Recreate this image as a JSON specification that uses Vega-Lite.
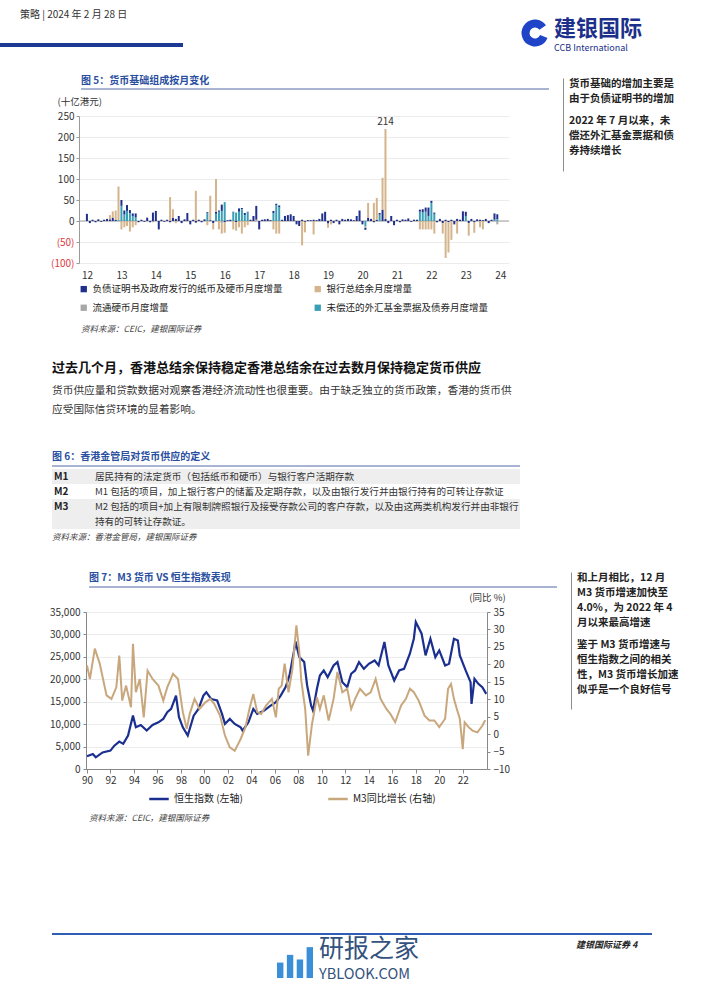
{
"$schema":"https://vega.github.io/schema/vega-lite/v6.json",
"padding":0,
"background":"white",
"spacing":0,
"resolve":{"scale":{"color":"independent","theta":"independent","x":"independent","y":"independent"},"legend":{"color":"independent"}},
"config":{"view":{"stroke":null},"font":"Noto Sans CJK SC","concat":{"spacing":0},"title":{"anchor":"start","frame":"bounds"}},
"datasets":{
"c5":[
{"m":"2012-01","ci":17},{"m":"2012-02","ci":-5},{"m":"2012-03","ci":3},{"m":"2012-04","ci":-3},{"m":"2012-05","ci":4},{"m":"2012-06","ci":-2},{"m":"2012-07","ci":3},{"m":"2012-08","ci":5},{"m":"2012-09","ci":4,"ab":10},{"m":"2012-10","ci":8,"ab":15},{"m":"2012-11","ci":3,"ab":22},{"m":"2012-12","ab":80,"ef":2},
{"m":"2013-01","ci":14,"ab":-20,"ef":36},{"m":"2013-02","ci":10,"ab":-15,"ef":15},{"m":"2013-03","ci":14,"ab":-12,"ef":24},{"m":"2013-04","ci":8,"ab":-25,"ef":18},{"m":"2013-05","ci":6,"ab":-15,"ef":12},{"m":"2013-06","ci":10,"ab":-10,"ef":8},{"m":"2013-07","ci":-3},{"m":"2013-08","ci":3},{"m":"2013-09","ci":-2},{"m":"2013-10","ci":8},{"m":"2013-11","ci":-3},{"m":"2013-12","ci":20,"co":-3},
{"m":"2014-01","ci":24},{"m":"2014-02","ci":-20},{"m":"2014-03","ci":3},{"m":"2014-04","ci":-2},{"m":"2014-05","ci":3},{"m":"2014-06","ci":-3,"ab":57},{"m":"2014-07","ci":8,"ab":20},{"m":"2014-08","ci":5,"ab":-5},{"m":"2014-09","ci":12},{"m":"2014-10","ci":-5},{"m":"2014-11","ci":4},{"m":"2014-12","ci":19},
{"m":"2015-01","ci":-8},{"m":"2015-02","ci":3},{"m":"2015-03","ci":-4,"ab":72},{"m":"2015-04","ci":3},{"m":"2015-05","ci":-3},{"m":"2015-06","ci":4},{"m":"2015-07","ci":3,"ab":-10,"ef":18},{"m":"2015-08","ci":2,"ab":58},{"m":"2015-09","ci":-5,"ab":-15},{"m":"2015-10","ci":5,"ab":78,"ef":17},{"m":"2015-11","ci":3,"ab":-20,"ef":22},{"m":"2015-12","ci":15,"ab":-25,"ef":24,"co":-5},
{"m":"2016-01","ci":-3,"ab":-25,"ef":45},{"m":"2016-02","ci":2},{"m":"2016-03","ci":3},{"m":"2016-04","ci":2,"ab":-20,"ef":20},{"m":"2016-05","ci":-3,"ab":-20,"ef":20},{"m":"2016-06","ci":8,"ab":-15,"ef":22},{"m":"2016-07","ci":3,"ab":-30,"ef":28},{"m":"2016-08","ci":5,"ab":-15,"ef":14},{"m":"2016-09","ci":2,"ab":-10,"ef":20},{"m":"2016-10","ci":3},{"m":"2016-11","ci":12},{"m":"2016-12","ci":33,"co":3},
{"m":"2017-01","ci":-20},{"m":"2017-02","ci":3},{"m":"2017-03","ci":4},{"m":"2017-04","ci":5},{"m":"2017-05","ci":2},{"m":"2017-06","ci":6,"ab":-20,"ef":18},{"m":"2017-07","ci":3,"ab":-30,"ef":38},{"m":"2017-08","ci":5,"ab":-30,"ef":32},{"m":"2017-09","ci":3},{"m":"2017-10","ci":12},{"m":"2017-11","ci":14},{"m":"2017-12","ci":16},
{"m":"2018-01","ci":12},{"m":"2018-02","ci":-8},{"m":"2018-03","ci":-12},{"m":"2018-04","ci":3,"ab":-58},{"m":"2018-05","ci":-2,"ab":-25},{"m":"2018-06","ci":2},{"m":"2018-07","ci":2},{"m":"2018-08","ci":3,"ab":-32},{"m":"2018-09","ci":2},{"m":"2018-10","ci":5},{"m":"2018-11","ci":18},{"m":"2018-12","ci":22},
{"m":"2019-01","ci":-6,"ab":-10},{"m":"2019-02","ci":3,"ab":-8},{"m":"2019-03","ci":-5},{"m":"2019-04","ci":3},{"m":"2019-05","ci":-8},{"m":"2019-06","ci":5},{"m":"2019-07","ci":3},{"m":"2019-08","ci":5},{"m":"2019-09","ci":4},{"m":"2019-10","ci":2},{"m":"2019-11","ci":12},{"m":"2019-12","ci":25},
{"m":"2020-01","ci":-8},{"m":"2020-02","ci":-5,"ef":-12,"co":-4},{"m":"2020-03","ci":8,"ab":35},{"m":"2020-04","ci":5},{"m":"2020-05","ci":-3,"ab":43},{"m":"2020-06","ci":3,"ab":52},{"m":"2020-07","ci":4,"ef":15},{"m":"2020-08","ci":27,"ab":76},{"m":"2020-09","ci":5,"ab":214},{"m":"2020-10","ci":-5},{"m":"2020-11","ci":12},{"m":"2020-12","ci":-10},
{"m":"2021-01","ci":3},{"m":"2021-02","ci":-3},{"m":"2021-03","ci":4},{"m":"2021-04","ci":3},{"m":"2021-05","ci":6},{"m":"2021-06","ci":-2},{"m":"2021-07","ci":3},{"m":"2021-08","ci":3},{"m":"2021-09","ci":5,"ab":-20,"ef":22},{"m":"2021-10","ci":8,"ab":-20,"ef":20},{"m":"2021-11","ci":10,"ab":-20,"ef":22},{"m":"2021-12","ci":20,"ab":-20,"ef":12},
{"m":"2022-01","ci":5,"ab":-20,"ef":43},{"m":"2022-02","ci":3,"ab":-30,"ef":17},{"m":"2022-03","ci":-3},{"m":"2022-04","ci":5},{"m":"2022-05","ci":-5,"ab":-25},{"m":"2022-06","ci":3,"ab":-88},{"m":"2022-07","ci":-3,"ab":-72},{"m":"2022-08","ci":3,"ab":-45},{"m":"2022-09","ci":-8},{"m":"2022-10","ci":5,"ab":-30},{"m":"2022-11","ci":3},{"m":"2022-12","ci":23},
{"m":"2023-01","ci":10,"ef":12},{"m":"2023-02","ci":-5,"ab":-30},{"m":"2023-03","ci":5},{"m":"2023-04","ci":-3,"ab":-25},{"m":"2023-05","ci":4},{"m":"2023-06","ci":3,"ab":-15},{"m":"2023-07","ci":2,"ab":-20},{"m":"2023-08","ci":5},{"m":"2023-09","ci":-5},{"m":"2023-10","ci":3},{"m":"2023-11","ci":15,"ef":3},{"m":"2023-12","ci":12,"ef":4,"co":-8}
],
"hsi":[
{"d":"1990-01","v":2830},{"d":"1990-07","v":3350},{"d":"1990-10","v":2600},{"d":"1991-05","v":3700},{"d":"1992-01","v":4100},{"d":"1992-05","v":5200},{"d":"1992-10","v":6100},{"d":"1993-02","v":5600},{"d":"1993-07","v":7450},{"d":"1993-12","v":11900},{"d":"1994-03","v":9300},{"d":"1994-08","v":9800},{"d":"1995-02","v":8560},{"d":"1995-08","v":9800},{"d":"1996-02","v":10400},{"d":"1996-07","v":11170},{"d":"1996-11","v":12660},{"d":"1997-03","v":13400},{"d":"1997-08","v":16380},{"d":"1997-11","v":11540},{"d":"1998-03","v":9300},{"d":"1998-08","v":7450},{"d":"1999-02","v":11900},{"d":"1999-07","v":13400},{"d":"1999-12","v":16380},{"d":"2000-03","v":17130},{"d":"2000-08","v":15600},{"d":"2001-02","v":15270},{"d":"2001-07","v":12290},{"d":"2001-10","v":10050},{"d":"2002-03","v":11170},{"d":"2002-08","v":10050},{"d":"2003-02","v":9300},{"d":"2003-04","v":8560},{"d":"2003-10","v":10400},{"d":"2004-03","v":13400},{"d":"2004-07","v":12290},{"d":"2005-02","v":13030},{"d":"2005-08","v":14000},{"d":"2006-02","v":14900},{"d":"2006-07","v":16380},{"d":"2006-12","v":18250},{"d":"2007-04","v":20850},{"d":"2007-09","v":26800},{"d":"2007-10","v":28500},{"d":"2008-02","v":24950},{"d":"2008-07","v":23830},{"d":"2008-10","v":18620},{"d":"2009-02","v":14150},{"d":"2009-04","v":13030},{"d":"2009-08","v":17870},{"d":"2009-11","v":20850},{"d":"2010-03","v":21970},{"d":"2010-07","v":20480},{"d":"2011-01","v":23090},{"d":"2011-05","v":23830},{"d":"2011-10","v":19360},{"d":"2012-03","v":18250},{"d":"2012-07","v":21230},{"d":"2012-11","v":21970},{"d":"2013-03","v":23830},{"d":"2013-08","v":22340},{"d":"2014-01","v":23460},{"d":"2014-07","v":24200},{"d":"2014-11","v":23090},{"d":"2015-05","v":28300},{"d":"2015-09","v":23090},{"d":"2016-03","v":19730},{"d":"2016-08","v":21970},{"d":"2017-01","v":22340},{"d":"2017-07","v":25690},{"d":"2017-11","v":29040},{"d":"2018-01","v":32770},{"d":"2018-07","v":30160},{"d":"2018-11","v":25320},{"d":"2019-04","v":29040},{"d":"2019-09","v":24950},{"d":"2020-01","v":26440},{"d":"2020-07","v":23090},{"d":"2020-11","v":23460},{"d":"2021-04","v":29040},{"d":"2021-08","v":28670},{"d":"2021-10","v":25320},{"d":"2022-04","v":21970},{"d":"2022-09","v":19360},{"d":"2022-10","v":14520},{"d":"2023-01","v":20100},{"d":"2023-05","v":18990},{"d":"2023-09","v":18250},{"d":"2024-01","v":16750}
],
"m3":[
{"d":"1990-01","v":19.7},{"d":"1990-04","v":15.8},{"d":"1990-09","v":24.5},{"d":"1991-02","v":20.2},{"d":"1991-09","v":11.1},{"d":"1992-02","v":10.1},{"d":"1992-07","v":13.4},{"d":"1992-10","v":22.5},{"d":"1993-01","v":9.6},{"d":"1993-05","v":13.9},{"d":"1993-10","v":7.7},{"d":"1993-12","v":25.9},{"d":"1994-03","v":12.0},{"d":"1994-07","v":15.8},{"d":"1994-11","v":4.8},{"d":"1995-03","v":18.2},{"d":"1995-08","v":15.8},{"d":"1996-02","v":13.9},{"d":"1996-07","v":9.6},{"d":"1996-11","v":13.4},{"d":"1997-05","v":17.3},{"d":"1997-10","v":15.8},{"d":"1998-03","v":6.3},{"d":"1998-07","v":1.5},{"d":"1998-10","v":5.8},{"d":"1999-03","v":10.1},{"d":"1999-08","v":7.2},{"d":"2000-02","v":9.1},{"d":"2000-07","v":10.1},{"d":"2000-11","v":8.7},{"d":"2001-05","v":5.3},{"d":"2001-10","v":-0.4},{"d":"2002-03","v":-3.8},{"d":"2002-08","v":-4.8},{"d":"2003-02","v":-1.4},{"d":"2003-07","v":2.0},{"d":"2003-11","v":7.2},{"d":"2004-03","v":11.5},{"d":"2004-07","v":6.3},{"d":"2004-11","v":5.8},{"d":"2005-04","v":8.2},{"d":"2005-10","v":10.1},{"d":"2006-02","v":4.8},{"d":"2006-05","v":13.0},{"d":"2006-08","v":13.9},{"d":"2006-11","v":20.2},{"d":"2007-03","v":12.0},{"d":"2007-07","v":18.7},{"d":"2007-11","v":31.2},{"d":"2008-02","v":23.5},{"d":"2008-04","v":15.4},{"d":"2008-08","v":7.2},{"d":"2008-11","v":-6.2},{"d":"2009-03","v":2.9},{"d":"2009-08","v":10.6},{"d":"2009-11","v":7.2},{"d":"2010-03","v":11.1},{"d":"2010-08","v":3.9},{"d":"2011-01","v":10.1},{"d":"2011-05","v":17.8},{"d":"2011-10","v":12.0},{"d":"2012-03","v":13.0},{"d":"2012-07","v":7.2},{"d":"2012-11","v":10.1},{"d":"2013-04","v":13.0},{"d":"2013-10","v":11.1},{"d":"2014-03","v":12.0},{"d":"2014-08","v":15.8},{"d":"2015-01","v":10.1},{"d":"2015-07","v":7.2},{"d":"2015-11","v":5.8},{"d":"2016-04","v":3.4},{"d":"2016-10","v":8.2},{"d":"2017-03","v":10.1},{"d":"2017-07","v":13.0},{"d":"2017-11","v":12.0},{"d":"2018-04","v":9.6},{"d":"2018-10","v":5.3},{"d":"2019-03","v":3.9},{"d":"2019-08","v":3.9},{"d":"2020-01","v":2.0},{"d":"2020-07","v":4.4},{"d":"2020-10","v":13.0},{"d":"2021-01","v":14.4},{"d":"2021-04","v":10.1},{"d":"2021-07","v":7.2},{"d":"2021-10","v":4.4},{"d":"2022-01","v":-4.3},{"d":"2022-03","v":3.4},{"d":"2022-07","v":2.0},{"d":"2022-11","v":1.0},{"d":"2023-04","v":0.5},{"d":"2023-09","v":2.4},{"d":"2023-12","v":4.0}
],
"tbl":[
{"line":1,"term":"M1","label":"M1","desc":"居民持有的法定货币（包括纸币和硬币）与银行客户活期存款"},
{"line":2,"term":"M2","label":"M2","desc":"M1 包括的项目，加上银行客户的储蓄及定期存款，以及由银行发行并由银行持有的可转让存款证"},
{"line":3,"term":"M3","label":"M3","desc":"M2 包括的项目+加上有限制牌照银行及接受存款公司的客户存款，以及由这两类机构发行并由非银行"},
{"line":4,"term":"M3","label":"","desc":"持有的可转让存款证。"}
]
},
"vconcat":[
{"spacing":0,"resolve":{"scale":{"color":"independent","theta":"independent"},"legend":{"color":"independent"}},"hconcat":[
 {"spacing":0,"vconcat":[
  {"width":183,"height":10,"data":{"values":[]},"mark":"point"},
  {"width":183,"height":4,"view":{"fill":"#1c3a94","stroke":null},"data":{"values":[]},"mark":"point","title":{"text":"策略  |  2024 年 2 月 28 日","fontSize":10,"fontWeight":"normal","color":"#333333","offset":23,"dx":20}}
 ]},
 {"width":338,"height":1,"data":{"values":[]},"mark":"point"},
 {"spacing":0,"vconcat":[
  {"width":28,"height":19,"data":{"values":[]},"mark":"point"},
  {"width":28,"height":28,"data":{"values":[{"p":"a","v":16},{"p":"b","v":84}]},"mark":{"type":"arc","innerRadius":5.5,"outerRadius":13.5},"encoding":{"theta":{"field":"v","type":"quantitative","scale":{"range":[0.95,7.233]}},"color":{"field":"p","type":"nominal","scale":{"domain":["a","b"],"range":["#ffffff","#2044c8"]},"legend":null}}}
 ]},
 {"width":5,"height":1,"data":{"values":[]},"mark":"point"},
 {"spacing":0,"vconcat":[
  {"width":100,"height":18,"data":{"values":[]},"mark":"point"},
  {"width":100,"height":1,"data":{"values":[]},"mark":"point","title":{"text":"建银国际","subtitle":"CCB International","fontSize":22,"fontWeight":"bold","color":"#1c2f8a","subtitleFontSize":9,"subtitleColor":"#1c2f8a","subtitlePadding":3,"offset":0}}
 ]}
]},
{"spacing":0,"resolve":{"scale":{"color":"independent"},"legend":{"color":"independent"}},"hconcat":[
 {"width":50,"height":1,"data":{"values":[]},"mark":"point"},
 {"spacing":0,"resolve":{"scale":{"color":"independent"},"legend":{"color":"independent"}},"vconcat":[
  {"width":470,"height":21,"data":{"values":[]},"mark":"point"},
  {"spacing":0,"hconcat":[
   {"width":2,"height":1,"data":{"values":[]},"mark":"point"},
   {"width":468,"height":2,"view":{"fill":"#a9b4d4","stroke":null},"data":{"values":[]},"mark":"point","title":{"text":"图 5：货币基础组成按月变化","fontSize":10,"fontWeight":"bold","color":"#2a4fa0","offset":2}}
  ]},
  {"width":1,"height":6,"data":{"values":[]},"mark":"point"},
  {"spacing":0,"resolve":{"scale":{"color":"independent"},"legend":{"color":"independent"}},"hconcat":[
  {"width":430,"height":147,
   "encoding":{"y":{"field":"v","type":"quantitative","scale":{"domain":[-100,250],"nice":false},"axis":{"values":[-100,-50,0,50,100,150,200,250],"labelOverlap":false,"labelExpr":"datum.value < 0 ? '(' + abs(datum.value) + ')' : datum.label","labelColor":{"condition":{"test":"datum.value < 0","value":"#e0393e"},"value":"#333333"},"labelFontSize":10,"gridColor":"#ececec","domainColor":"#9a9a9a","tickColor":"#9a9a9a","tickSize":3,"labelPadding":2,"title":"(十亿港元)","titleAngle":0,"titleAlign":"left","titleBaseline":"middle","titleX":-22,"titleY":-15,"titleFontSize":9.5,"titleFontWeight":"normal","titleColor":"#333333"}}},
   "layer":[
    {"data":{"values":[{"v":0}]},"mark":{"type":"rule","color":"#a0a0a0","strokeWidth":1},"encoding":{}},
    {"data":{"name":"c5"},
     "transform":[{"fold":["ci","ab","co","ef"],"as":["s","v"]},{"filter":"isValid(datum.v)"}],
     "mark":{"type":"bar","width":2},
     "encoding":{
      "x":{"field":"m","type":"temporal","scale":{"domain":[{"year":2011,"month":12,"date":1},{"year":2024,"month":2,"date":10}],"nice":false},"axis":{"format":"%y","tickCount":{"interval":"year","step":1},"domain":false,"ticks":false,"grid":false,"labelPadding":7,"labelFontSize":10,"labelColor":"#333333","labelFlush":false,"labelOverlap":false,"title":null}},
      "color":{"field":"s","type":"nominal","scale":{"domain":["ci","co","ab","ef"],"range":["#1f2f8a","#a8a8a8","#d4b48c","#3a9fb5"]},
       "legend":{"orient":"none","legendX":0,"legendY":168,"columns":2,"columnPadding":30,"rowPadding":8,"symbolType":"square","symbolSize":40,"symbolStrokeWidth":0,"labelFontSize":9.5,"labelColor":"#222222","labelLimit":300,"title":null,
        "labelExpr":"datum.label == 'ci' ? '负债证明书及政府发行的纸币及硬币月度增量' : datum.label == 'ab' ? '银行总结余月度增量' : datum.label == 'co' ? '流通硬币月度增量' : '未偿还的外汇基金票据及债券月度增量'"}}
     }},
    {"data":{"name":"c5"},
     "transform":[{"fold":["ci","ab","co","ef"],"as":["s","v"]},{"filter":"isValid(datum.v) && datum.v > 200"}],
     "mark":{"type":"text","dy":-9,"fontSize":10,"color":"#333333"},
     "encoding":{"x":{"field":"m","type":"temporal"},"text":{"field":"v","type":"quantitative"}}}
   ]}
  ]},
  {"width":1,"height":11,"data":{"values":[]},"mark":"point"},
  {"spacing":0,"hconcat":[
   {"width":2,"height":1,"data":{"values":[]},"mark":"point"},
   {"width":1,"height":1,"data":{"values":[]},"mark":"point","title":{"text":"资料来源：CEIC，建银国际证券","fontSize":8.5,"fontStyle":"italic","fontWeight":"normal","color":"#444444","offset":0}}
  ]}
 ]},
 {"width":14,"height":1,"data":{"values":[]},"mark":"point"},
 {"spacing":0,"vconcat":[
  {"width":1,"height":23,"data":{"values":[]},"mark":"point"},
  {"width":160,"height":93,"data":{"values":[{"y":0},{"y":1}]},"mark":{"type":"point","opacity":0,"size":0},
   "encoding":{"y":{"field":"y","type":"quantitative","scale":{"domain":[0,1]},"axis":{"labels":false,"ticks":false,"grid":false,"title":null,"domainColor":"#8c8c8c","domainWidth":1}}},
   "title":{"text":["货币基础的增加主要是","由于负债证明书的增加"],"subtitle":["2022 年 7 月以来，未","偿还外汇基金票据和债","券持续增长"],"orient":"top","anchor":"start","offset":-78,"dx":6,"fontSize":10.5,"fontWeight":"bold","color":"#222222","lineHeight":15,"subtitleFontSize":10.5,"subtitleFontWeight":"bold","subtitleColor":"#222222","subtitleLineHeight":15,"subtitlePadding":11}}
 ]}
]},
{"spacing":0,"hconcat":[
 {"width":52,"height":1,"data":{"values":[]},"mark":"point"},
 {"spacing":0,"vconcat":[
  {"width":1,"height":28,"data":{"values":[]},"mark":"point"},
  {"width":468,"height":1,"data":{"values":[]},"mark":"point","title":{"text":"过去几个月，香港总结余保持稳定香港总结余在过去数月保持稳定货币供应","subtitle":["货币供应量和贷款数据对观察香港经济流动性也很重要。由于缺乏独立的货币政策，香港的货币供","应受国际信贷环境的显着影响。"],"fontSize":13,"fontWeight":"bold","color":"#111111","subtitleFontSize":10.7,"subtitleColor":"#333333","subtitleLineHeight":19,"subtitlePadding":11,"offset":2}}
 ]}
]},
{"spacing":0,"resolve":{"scale":{"color":"independent"},"legend":{"color":"independent"}},"hconcat":[
 {"width":52,"height":1,"data":{"values":[]},"mark":"point"},
 {"spacing":0,"resolve":{"scale":{"color":"independent"},"legend":{"color":"independent"}},"vconcat":[
  {"width":1,"height":34,"data":{"values":[]},"mark":"point"},
  {"width":468,"height":2,"view":{"fill":"#a9b4d4","stroke":null},"data":{"values":[]},"mark":"point","title":{"text":"图 6：香港金管局对货币供应的定义","fontSize":10,"fontWeight":"bold","color":"#2a4fa0","offset":3}},
  {"width":1,"height":2,"data":{"values":[]},"mark":"point"},
  {"width":468,"height":60,"data":{"name":"tbl"},
   "title":{"text":"资料来源：香港金管局，建银国际证券","orient":"bottom","fontSize":8.5,"fontStyle":"italic","fontWeight":"normal","color":"#444444","offset":4},
   "encoding":{"y":{"field":"line","type":"ordinal","axis":null,"scale":{"paddingInner":0,"paddingOuter":0}}},
   "layer":[
    {"mark":{"type":"rect"},"encoding":{"color":{"field":"term","type":"nominal","scale":{"domain":["M1","M2","M3"],"range":["#eeeeee","#ffffff","#eeeeee"]},"legend":null}}},
    {"mark":{"type":"text","align":"left","fontSize":10,"fontWeight":"bold","color":"#222222"},"encoding":{"x":{"datum":"term","type":"nominal","scale":{"type":"point","domain":["term","desc"],"range":[2,43],"padding":0},"axis":null},"text":{"field":"label"}}},
    {"mark":{"type":"text","align":"left","fontSize":9.6,"color":"#333333"},"encoding":{"x":{"datum":"desc","type":"nominal","scale":{"type":"point","domain":["term","desc"],"range":[2,43],"padding":0},"axis":null},"text":{"field":"desc"}}}
   ]}
 ]}
]},
{"spacing":0,"resolve":{"scale":{"color":"independent"},"legend":{"color":"independent"}},"hconcat":[
 {"width":49,"height":1,"data":{"values":[]},"mark":"point"},
 {"spacing":0,"resolve":{"scale":{"color":"independent"},"legend":{"color":"independent"}},"vconcat":[
  {"width":1,"height":31,"data":{"values":[]},"mark":"point"},
  {"spacing":0,"hconcat":[
   {"width":3,"height":1,"data":{"values":[]},"mark":"point"},
   {"width":468,"height":2,"view":{"fill":"#a9b4d4","stroke":null},"data":{"values":[]},"mark":"point","title":{"text":"图 7：M3 货币 VS 恒生指数表现","fontSize":10,"fontWeight":"bold","color":"#2a4fa0","offset":3}}
  ]},
  {"width":1,"height":4,"data":{"values":[]},"mark":"point"},
  {"spacing":0,"resolve":{"scale":{"color":"independent"},"legend":{"color":"independent"}},"hconcat":[
  {"width":401,"height":157,
   "encoding":{"x":{"field":"d","type":"temporal","scale":{"domain":[{"year":1989,"month":12,"date":1},{"year":2024,"month":1,"date":25}],"nice":false},"axis":{"format":"%y","values":[{"year":1990},{"year":1992},{"year":1994},{"year":1996},{"year":1998},{"year":2000},{"year":2002},{"year":2004},{"year":2006},{"year":2008},{"year":2010},{"year":2012},{"year":2014},{"year":2016},{"year":2018},{"year":2020},{"year":2022}],"labelOverlap":false,"grid":false,"domainColor":"#888888","tickColor":"#888888","tickSize":4,"labelFontSize":10,"labelColor":"#333333","labelPadding":2,"labelFlush":false,"title":null}}},
   "layer":[
    {"data":{"name":"hsi"},"mark":{"type":"line","strokeWidth":2.2},
     "encoding":{
      "y":{"field":"v","type":"quantitative","scale":{"domain":[0,35000]},"axis":{"values":[0,5000,10000,15000,20000,25000,30000,35000],"labelExpr":"format(datum.value, ',')","labelOverlap":false,"labelFontSize":10,"labelColor":"#333333","gridColor":"#ececec","domainColor":"#888888","tickColor":"#888888","tickSize":3,"labelPadding":3,"title":null}},
      "color":{"datum":"恒生指数 (左轴)","type":"nominal","scale":{"domain":["恒生指数 (左轴)","M3同比增长 (右轴)"],"range":["#1a2f8f","#c9a77d"]},
       "legend":{"orient":"none","legendX":62,"legendY":176,"direction":"horizontal","symbolType":"stroke","symbolStrokeWidth":2.5,"symbolSize":380,"columnPadding":80,"labelFontSize":10,"labelColor":"#222222","labelLimit":300,"title":null}}
     }},
    {"data":{"name":"m3"},"mark":{"type":"line","strokeWidth":2},
     "encoding":{
      "y":{"field":"v","type":"quantitative","scale":{"domain":[-10,35]},"axis":{"orient":"right","values":[-10,-5,0,5,10,15,20,25,30,35],"labelOverlap":false,"grid":false,"labelFontSize":10,"labelColor":"#333333","domainColor":"#888888","tickColor":"#888888","tickSize":3,"labelPadding":3,"title":"(同比 %)","titleAngle":0,"titleAlign":"center","titleBaseline":"middle","titleX":0,"titleY":-15,"titleFontSize":9.5,"titleFontWeight":"normal","titleColor":"#333333"}},
      "color":{"datum":"M3同比增长 (右轴)","type":"nominal"}
     }}
   ],
   "resolve":{"scale":{"y":"independent"}}}
  ]},
  {"width":1,"height":9,"data":{"values":[]},"mark":"point"},
  {"spacing":0,"hconcat":[
   {"width":3,"height":1,"data":{"values":[]},"mark":"point"},
   {"width":1,"height":1,"data":{"values":[]},"mark":"point","title":{"text":"资料来源：CEIC，建银国际证券","fontSize":8.5,"fontStyle":"italic","fontWeight":"normal","color":"#444444","offset":0}}
  ]}
 ]},
 {"width":14,"height":1,"data":{"values":[]},"mark":"point"},
 {"spacing":0,"vconcat":[
  {"width":1,"height":30,"data":{"values":[]},"mark":"point"},
  {"width":160,"height":137,"data":{"values":[{"y":0},{"y":1}]},"mark":{"type":"point","opacity":0,"size":0},
   "encoding":{"y":{"field":"y","type":"quantitative","scale":{"domain":[0,1]},"axis":{"labels":false,"ticks":false,"grid":false,"title":null,"domainColor":"#8c8c8c","domainWidth":1}}},
   "title":{"text":["和上月相比，12 月","M3 货币增速加快至","4.0%，为 2022 年 4","月以来最高增速"],"subtitle":["鉴于 M3 货币增速与","恒生指数之间的相关","性，M3 货币增长加速","似乎是一个良好信号"],"orient":"top","anchor":"start","offset":-123,"dx":6,"fontSize":10.5,"fontWeight":"bold","color":"#222222","lineHeight":15,"subtitleFontSize":10.5,"subtitleFontWeight":"bold","subtitleColor":"#222222","subtitleLineHeight":15,"subtitlePadding":11}}
 ]}
]},
{"spacing":0,"hconcat":[
 {"width":52,"height":1,"data":{"values":[]},"mark":"point"},
 {"spacing":0,"vconcat":[
  {"width":1,"height":110,"data":{"values":[]},"mark":"point"},
  {"width":600,"height":2,"view":{"fill":"#2f5fb5","stroke":null},"data":{"values":[]},"mark":"point"}
 ]}
]},
{"spacing":0,"hconcat":[
 {"width":277,"height":1,"data":{"values":[]},"mark":"point"},
 {"spacing":0,"vconcat":[
  {"width":1,"height":7,"data":{"values":[]},"mark":"point"},
  {"width":36,"height":36,"data":{"values":[{"i":"1","h":3},{"i":"2","h":4.5},{"i":"3","h":3.6},{"i":"4","h":6}]},"mark":{"type":"bar","color":"#3b8fd8"},"encoding":{"x":{"field":"i","type":"ordinal","axis":null,"scale":{"paddingInner":0.35,"paddingOuter":0}},"y":{"field":"h","type":"quantitative","axis":null,"scale":{"domain":[0,7]}}}}
 ]},
 {"width":6,"height":1,"data":{"values":[]},"mark":"point"},
 {"spacing":0,"vconcat":[
  {"width":1,"height":1,"data":{"values":[]},"mark":"point"},
  {"width":100,"height":1,"data":{"values":[]},"mark":"point","title":{"text":"研报之家","subtitle":"YBLOOK.COM","fontSize":25,"fontWeight":"normal","color":"#33527d","subtitleFontSize":14.5,"subtitleColor":"#33527d","subtitlePadding":6,"offset":0}}
 ]},
 {"width":156,"height":1,"data":{"values":[]},"mark":"point"},
 {"spacing":0,"vconcat":[
  {"width":1,"height":6,"data":{"values":[]},"mark":"point"},
  {"width":80,"height":1,"data":{"values":[]},"mark":"point","title":{"text":"建银国际证券    4","fontSize":9,"fontStyle":"italic","fontWeight":"bold","color":"#222222","offset":0}}
 ]}
]}
]
}
